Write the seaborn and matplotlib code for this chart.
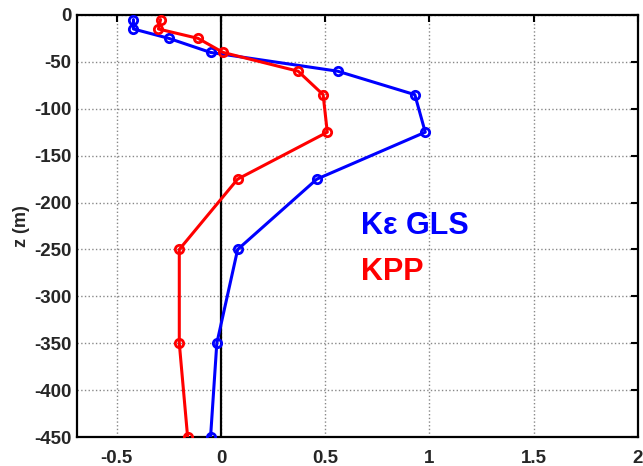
import matplotlib
matplotlib.use("Agg")
import matplotlib.pyplot as plt
import seaborn as sns
import pandas as pd

depth = [-5, -15, -25, -40, -60, -85, -125, -175, -250, -350, -450]
gls = [-0.42, -0.42, -0.25, -0.05, 0.56, 0.93, 0.98, 0.46, 0.08, -0.02, -0.05]
kpp = [-0.29, -0.30, -0.11, 0.01, 0.37, 0.49, 0.51, 0.08, -0.20, -0.20, -0.16]

xticks = [-0.5, 0, 0.5, 1, 1.5, 2]
yticks = [0, -50, -100, -150, -200, -250, -300, -350, -400, -450]

sns.set_style("white")
plt.rcParams['font.family'] = ['Liberation Sans', 'DejaVu Sans']
plt.rcParams['font.weight'] = 'bold'

fig = plt.figure(figsize=(6.43, 4.66), dpi=100)
ax = fig.add_axes([0.12, 0.062, 0.872, 0.906])

df_g = pd.DataFrame({"x": gls, "z": depth})
df_k = pd.DataFrame({"x": kpp, "z": depth})

ax.axvline(0, color='black', lw=1.6, zorder=1)
for df, c in [(df_g, '#0000ff'), (df_k, '#ff0000')]:
    sns.lineplot(data=df, x="x", y="z", sort=False, estimator=None, ax=ax,
                 color=c, lw=2.2, marker='o', markersize=6, markerfacecolor='none',
                 markeredgecolor=c, markeredgewidth=2, zorder=3)

ax.set_xlim(-0.69, 2)
ax.set_ylim(-450, 0)
ax.set_xticks(xticks)
ax.set_xticklabels(["-0.5", "0", "0.5", "1", "1.5", "2"])
ax.set_yticks(yticks)
ax.set_yticklabels([str(v) for v in yticks])
ax.grid(True, color='#888888', linestyle=':', linewidth=1)
ax.tick_params(direction='in', length=5, width=1.5, labelsize=13.5, top=True, right=True,
               color='black')
ax.tick_params(axis='x', pad=9)
ax.tick_params(axis='y', pad=4)
for lab in ax.get_xticklabels() + ax.get_yticklabels():
    lab.set_fontweight('bold')
for s in ax.spines.values():
    s.set_color('black')
    s.set_linewidth(1.6)
ax.set_xlabel("")
ax.set_ylabel("z (m)", fontsize=13, fontweight='bold', labelpad=3)

ax.text(0.67, -225, "Kε GLS", color='#0000ff', fontsize=22, fontweight='bold', va='center')
ax.text(0.67, -274, "KPP", color='#ff0000', fontsize=22, fontweight='bold', va='center')

fig.savefig("out.png", dpi=100)
